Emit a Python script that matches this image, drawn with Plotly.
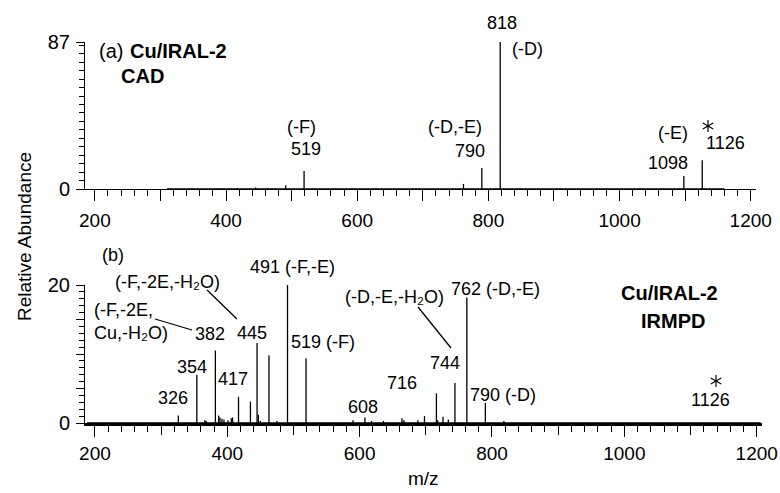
import math
import plotly.graph_objects as go

# ---------------- data ----------------
# (a) CAD spectrum: m/z and relative abundance (0-87 scale)
cad_mz = [392, 417, 445, 463, 491, 519, 762, 790, 818, 980, 1098, 1126]
cad_ab = [0.3, 0.5, 0.9, 0.6, 2.2, 10.7, 3.0, 12.5, 87.0, 0.5, 7.7, 17.0]
cad_base = [310, 1160]

# (b) IRMPD spectrum: m/z and relative abundance (0-20 scale)
irm_mz = [326, 354, 366, 368, 382, 387, 389, 392, 395, 401, 406, 408, 417, 435,
          445, 447, 450, 463, 475, 491, 519, 590, 608, 618, 636, 664, 667, 688,
          698, 716, 718, 726, 734, 744, 762, 790, 818]
irm_ab = [1.1, 7.0, 0.4, 0.3, 10.5, 1.1, 0.8, 0.6, 0.5, 0.4, 0.7, 0.8, 3.8, 3.1,
          11.6, 1.2, 0.3, 9.8, 0.3, 20.0, 9.4, 0.4, 0.8, 0.3, 0.3, 0.7, 0.4, 0.4,
          1.0, 4.3, 0.4, 0.9, 0.5, 5.8, 18.2, 2.9, 0.3]
irm_base = [188, 1206]

x_range = [185, 1208]
x_labeled_ticks = [200, 400, 600, 800, 1000, 1200]
x_unlabeled_ticks = [300, 500, 700, 900, 1100]
top_y_ticks = [0, 87]
bot_y_labeled_ticks = [0, 20]
bot_y_unlabeled_ticks = [5, 10, 15]

W, H = 780, 493
FONT = "Liberation Sans, Arial, Helvetica, sans-serif"


def sticks(mz, ab, base):
    xs, ys = [base[0], base[1], None], [0, 0, None]
    for m, a in zip(mz, ab):
        xs += [m, m, None]
        ys += [0, a, None]
    return xs, ys


fig = go.Figure()
xa, ya = sticks(cad_mz, cad_ab, cad_base)
fig.add_trace(go.Scatter(x=xa, y=ya, mode="lines", line=dict(color="black", width=1.3),
                         xaxis="x", yaxis="y", hoverinfo="skip", showlegend=False))
xb, yb = sticks(irm_mz, irm_ab, irm_base)
fig.add_trace(go.Scatter(x=xb, y=yb, mode="lines", line=dict(color="black", width=1.3),
                         xaxis="x2", yaxis="y2", hoverinfo="skip", showlegend=False))
# empty traces so the tick-only overlay axes are drawn
for xr, yr in [("x3", "y"), ("x4", "y2"), ("x2", "y3")]:
    fig.add_trace(go.Scatter(x=[None], y=[None], xaxis=xr, yaxis=yr, mode="lines",
                             hoverinfo="skip", showlegend=False))


def px(x):
    return x / W


def py(y):
    return 1 - y / H


common_x = dict(range=x_range, tickmode="array", tickvals=x_labeled_ticks,
                ticks="outside", ticklen=11, tickwidth=1, tickcolor="black",
                showline=True, linecolor="black", showgrid=False, zeroline=False,
                tickfont=dict(family=FONT, size=19, color="black"),
                minor=dict(tickmode="linear", tick0=200, dtick=20, ticks="outside",
                           ticklen=6, tickwidth=1, tickcolor="black", showgrid=False))
overlay_x = dict(range=x_range, tickmode="array", tickvals=x_unlabeled_ticks,
                 ticks="outside", ticklen=11, tickwidth=1, tickcolor="black",
                 showticklabels=False, showline=False, showgrid=False, zeroline=False)
common_y = dict(ticks="outside", ticklen=8, tickwidth=1, tickcolor="black",
                showline=True, linecolor="black", linewidth=1, showgrid=False, zeroline=False,
                tickmode="array", tickfont=dict(family=FONT, size=20, color="black"),
                ticklabelstandoff=2)

fig.update_layout(
    width=W, height=H, margin=dict(l=0, r=0, t=0, b=0, autoexpand=False),
    plot_bgcolor="white", paper_bgcolor="white", showlegend=False,
    xaxis=dict(common_x, domain=[px(85), px(756)], anchor="y", linewidth=1,
               ticklabelstandoff=3),
    xaxis3=dict(overlay_x, overlaying="x", anchor="y", side="bottom"),
    yaxis=dict(common_y, domain=[py(189), py(42)], anchor="x", range=[0, 87],
               tickvals=top_y_ticks,
               minor=dict(tickmode="linear", tick0=0, dtick=5, ticks="outside", ticklen=5,
                          tickwidth=1, tickcolor="black", showgrid=False)),
    xaxis2=dict(common_x, domain=[px(85), px(762)], anchor="y2", linewidth=3),
    xaxis4=dict(overlay_x, overlaying="x2", anchor="y2", side="bottom"),
    yaxis2=dict(common_y, domain=[py(423), py(285)], anchor="x2", range=[0, 20],
                tickvals=bot_y_labeled_ticks,
                minor=dict(tickmode="linear", tick0=0, dtick=1, ticks="outside", ticklen=5,
                           tickwidth=1, tickcolor="black", showgrid=False)),
    yaxis3=dict(overlaying="y2", anchor="x2", side="left", range=[0, 20],
                tickmode="array", tickvals=bot_y_unlabeled_ticks, ticks="outside",
                ticklen=8, tickwidth=1, tickcolor="black", showticklabels=False,
                showline=False, showgrid=False, zeroline=False),
)

# ---------------- labels ----------------
# (text, x px, y px, xanchor, size, bold)
labels = [
    ("(a)", 97, 51, "left", 20, False),
    ("Cu/IRAL-2", 128, 51, "left", 20, True),
    ("CAD", 119, 76, "left", 20, True),
    ("(-F)", 301, 127, "center", 18, False),
    ("519", 306, 149, "center", 18, False),
    ("(-D,-E)", 455, 127, "center", 18, False),
    ("790", 470, 151, "center", 18, False),
    ("818", 502, 23, "center", 18, False),
    ("(-D)", 527, 49, "center", 18, False),
    ("(-E)", 673, 133, "center", 18, False),
    ("1098", 668, 163, "center", 18, False),
    ("1126", 725, 143, "center", 18, False),
    ("(b)", 113, 255, "center", 18, False),
    ("(-F,-2E,-H₂O)", 167, 282, "center", 18, False),
    ("491 (-F,-E)", 292, 267, "center", 18, False),
    ("(-F,-2E,", 92, 310, "left", 18, False),
    ("Cu,-H₂O)", 92, 333, "left", 18, False),
    ("382", 210, 334, "center", 18, False),
    ("445", 252, 333, "center", 18, False),
    ("519 (-F)", 323, 342, "center", 18, False),
    ("354", 192, 367, "center", 18, False),
    ("417", 233, 379, "center", 18, False),
    ("326", 173, 398, "center", 18, False),
    ("608", 363, 407, "center", 18, False),
    ("716", 402, 383, "center", 18, False),
    ("(-D,-E,-H₂O)", 394, 297, "center", 18, False),
    ("744", 445, 363, "center", 18, False),
    ("762 (-D,-E)", 495, 289, "center", 18, False),
    ("790 (-D)", 503, 395, "center", 18, False),
    ("Cu/IRAL-2", 669, 293, "center", 20, True),
    ("IRMPD", 673, 321, "center", 20, True),
    ("1126", 710, 400, "center", 18, False),
    ("m/z", 424, 478, "center", 19, False),
]
for t, x, y, xa_, s, b in labels:
    fig.add_annotation(text=t, x=px(x), y=py(y), xref="paper", yref="paper",
                       xanchor=xa_, yanchor="middle", showarrow=False,
                       font=dict(family=FONT, size=s, color="black",
                                 weight="bold" if b else "normal"))

fig.add_annotation(text="Relative Abundance", x=px(24), y=py(237), xref="paper", yref="paper",
                   textangle=-90, xanchor="center", yanchor="middle", showarrow=False,
                   font=dict(family=FONT, size=19, color="black"))

# precursor asterisks drawn as six-armed stars
for cx, cy in [(708, 126), (716, 381)]:
    r = 6
    for ang in (90, 30, 150):
        dx = r * math.cos(math.radians(ang))
        dy = r * math.sin(math.radians(ang))
        fig.add_shape(type="line", xref="paper", yref="paper",
                      x0=px(cx - dx), y0=py(cy - dy), x1=px(cx + dx), y1=py(cy + dy),
                      line=dict(color="black", width=1.2))

# leader lines
for x0, y0, x1, y1 in [(207, 290, 237, 319), (155, 319, 192, 330), (418, 307, 451, 348)]:
    fig.add_shape(type="line", xref="paper", yref="paper",
                  x0=px(x0), y0=py(y0), x1=px(x1), y1=py(y1),
                  line=dict(color="black", width=1.3))

fig.write_html("out.html")
